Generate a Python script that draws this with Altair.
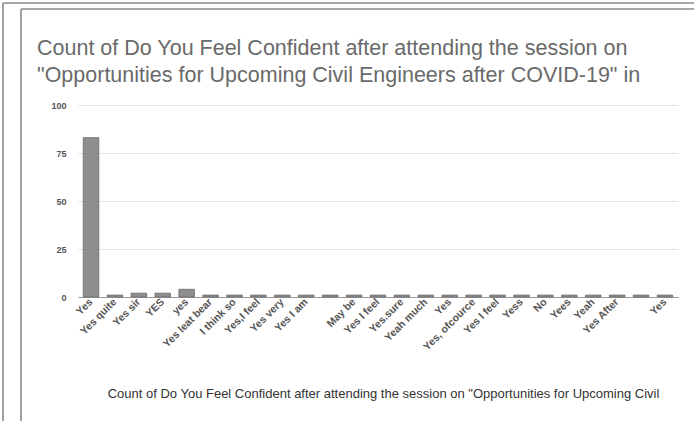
import json
import altair as alt
import pandas as pd

# Responses (in order shown on the axis) and how many times each was given
responses = [
    "Yes", "Yes quite", "Yes sir", "YES", "yes", "Yes leat bear", "I think so",
    "Yes,I feel", "Yes very", "Yes  I am", "", "May be", "Yes  I feel",
    "Yes.sure", "Yeah much", "Yes", "Yes, ofcource", "Yes I feel", "Yess",
    "No", "Yees", "Yeah", "Yes After", "", "Yes",
]
counts = [83, 1, 2, 2, 4, 1, 1, 1, 1, 1, 1, 1, 1, 1, 1, 1, 1, 1, 1, 1, 1, 1, 1, 1, 1]
y_ticks = [0, 25, 50, 75, 100]

title_lines = [
    "Count of Do You Feel Confident after attending the session on",
    "\"Opportunities for Upcoming Civil Engineers after COVID-19\" in",
]
x_title = ("Count of Do You Feel Confident after attending the session on "
           "\"Opportunities for Upcoming Civil")

df = pd.DataFrame({"idx": list(range(len(responses))), "count": counts})
label_expr = json.dumps(responses) + "[datum.value]"

FONT = "Liberation Sans"

bars = alt.Chart(df).mark_bar(
    color="#8e8e8e", stroke="#6a6a6a", strokeWidth=0.8
).encode(
    x=alt.X(
        "idx:O",
        sort=None,
        scale=alt.Scale(paddingInner=0.35, paddingOuter=0.22),
        axis=alt.Axis(
            title=x_title,
            labelExpr=label_expr,
            labelAngle=-45,
            labelAlign="right",
            labelBaseline="middle",
            labelFontSize=10.5,
            labelFont=FONT,
            labelFontWeight="bold",
            labelColor="#555555",
            labelPadding=3,
            labelOverlap=False,
            ticks=False,
            domain=True,
            domainColor="#9a9a9a",
            domainWidth=1.2,
            titleFont=FONT,
            titleFontSize=13,
            titleFontWeight="normal",
            titleColor="#333333",
            titleX=305,
            titleY=96,
            titleBaseline="middle",
            titleAnchor="middle",
        ),
    ),
    y=alt.Y(
        "count:Q",
        scale=alt.Scale(domain=[0, 100]),
        axis=alt.Axis(
            title=None,
            values=y_ticks,
            domain=False,
            ticks=False,
            labelPadding=12,
            labelFont=FONT,
            labelFontSize=9,
            labelFontWeight="bold",
            labelColor="#555555",
            gridColor="#e2e2e2",
            gridWidth=1,
        ),
    ),
)

one = pd.DataFrame({"k": [0]})


def frame_line(x, x2, y, y2):
    return alt.Chart(one).mark_rule(color="#8a8a8a", strokeWidth=1.6).encode(
        x=alt.value(x), x2=alt.value(x2), y=alt.value(y), y2=alt.value(y2)
    )


# outer and inner card borders
frame = [
    frame_line(-75, -75, -102, 316),
    frame_line(-75, 616, -102, -102),
    frame_line(-57, -57, -96, 316),
    frame_line(-57, 616, -96, -96),
]

chart = alt.layer(bars, *frame).properties(
    width=600,
    height=192,
    autosize=alt.AutoSizeParams(type="none"),
    padding={"left": 78, "top": 105, "right": 16, "bottom": 124},
    background="#ffffff",
    title=alt.TitleParams(
        text=title_lines,
        anchor="start",
        frame="group",
        dx=-41,
        dy=106,
        offset=22,
        font=FONT,
        fontSize=21.5,
        fontWeight="normal",
        color="#6a6a6a",
        lineHeight=27,
    ),
).configure_view(stroke=None)

chart.save("out.html", embed_options={"renderer": "svg", "actions": False})
